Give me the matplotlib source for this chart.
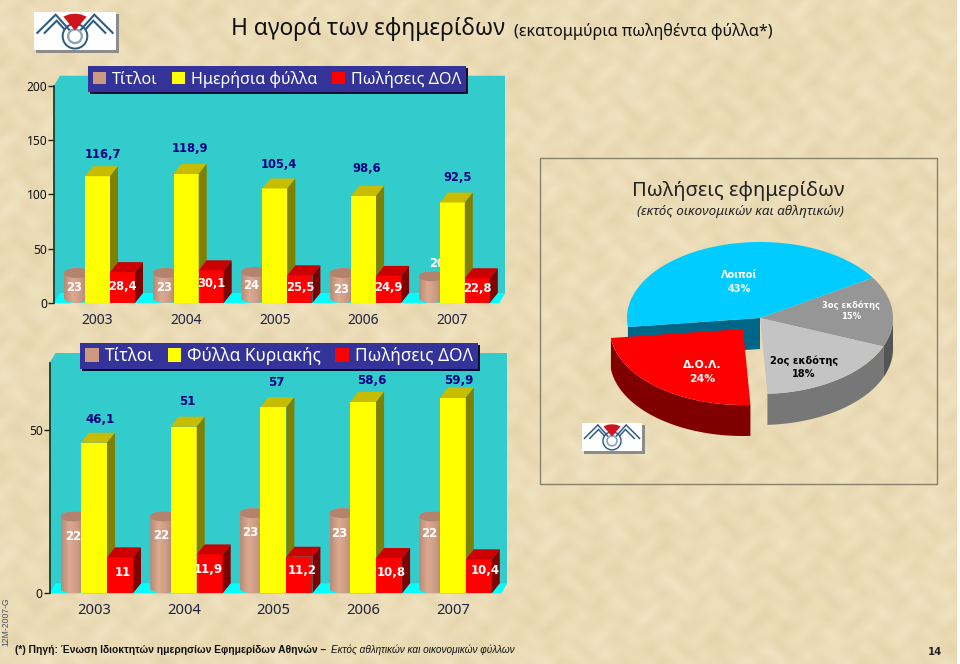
import numpy as np
import matplotlib
matplotlib.use('Agg')
import matplotlib.pyplot as plt
from matplotlib.colors import LinearSegmentedColormap
from matplotlib.patches import Polygon, Rectangle, Circle, Patch

years = ['2003', '2004', '2005', '2006', '2007']

# top chart
titles_top = [23, 23, 24, 23, 20]
daily_sheets = [116.7, 118.9, 105.4, 98.6, 92.5]
dol_sales_top = [28.4, 30.1, 25.5, 24.9, 22.8]

# bottom chart
titles_bottom = [22, 22, 23, 23, 22]
sunday_sheets = [46.1, 51, 57, 58.6, 59.9]
dol_sales_bottom = [11, 11.9, 11.2, 10.8, 10.4]

# pie
pie_names = ['3ος εκδότης', '2ος εκδότης', 'Δ.Ο.Λ.', 'Λοιποί']
pie_shares = [15, 18, 24, 43]

W, H = 960, 664
TEAL = '#33CCCC'
NAVY = '#000080'
INK = '#1C2340'
SANS = 'Noto Sans'


def fmt(v):
    return f'{v:g}'.replace('.', ',')


fig = plt.figure(figsize=(W / 100, H / 100), dpi=100)
bg = fig.add_axes([0, 0, 1, 1], zorder=0)
bg.set_xlim(0, W)
bg.set_ylim(H, 0)
bg.axis('off')

# parchment background, mottled with a few sine waves
yy, xx = np.mgrid[0:H, 0:W]
mott = (0.7 * np.sin(xx / 19 + 1.5 * np.sin(yy / 27)) * np.sin(yy / 14 - xx / 37)
        + 0.6 * np.sin(xx / 5.3 + 2 * np.sin(yy / 11))
        + 0.5 * np.sin(yy / 3.7 + 2 * np.sin(xx / 8)))
base = np.array([235, 220, 183]) / 255
tex = base[None, None, :] + (mott / 2)[:, :, None] * np.array([.025, .03, .04])
bg.imshow(np.clip(tex, 0, 1), extent=[0, W, H, 0], aspect='auto', zorder=0)
bg.set_xlim(0, W)
bg.set_ylim(H, 0)
bg.add_patch(Rectangle((957, 0), 3, H, fc='white', ec='none', zorder=1))


def draw_logo(x0, y0, w, h):
    sx, sy = w / 246, h / 113
    pt = lambda a, b: (x0 + a * sx, y0 + b * sy)
    bg.add_patch(Rectangle((x0 + 2, y0 + 2), w + 1, h + 1, fc='#8C8C8C', ec='none', zorder=2))
    bg.add_patch(Rectangle((x0, y0), w, h, fc='white', ec='none', zorder=2))
    for r, col in [(40, '#2F5C85'), (34, 'white'), (24, '#8AA3BC'), (17, 'white')]:
        bg.add_patch(Circle(pt(123, 72), r * sx, fc=col, ec='none', zorder=3))
    lw = 1.5 * w / 82
    for line in [[(10, 62), (65, 8), (105, 52)], [(32, 62), (68, 26), (90, 50)],
                 [(236, 62), (181, 8), (141, 52)], [(214, 62), (178, 26), (156, 50)]]:
        bg.plot(*zip(*[pt(*p) for p in line]), color='#2F5C85', lw=lw, zorder=3, solid_joinstyle='miter')
    bg.add_patch(Polygon([pt(88, 14), pt(105, 7), pt(123, 5), pt(141, 7), pt(158, 14), pt(123, 55)],
                         fc='#D0141C', ec='none', zorder=4))


draw_logo(34, 12, 82, 38)
draw_logo(582, 423, 60, 28)

# titles and footer
bg.text(231, 29, 'Η αγορά των εφημερίδων', fontsize=16.4, family=SANS, color='#111111', va='center')
bg.text(514, 31, '(εκατομμύρια πωληθέντα φύλλα*)', fontsize=11.6, family=SANS, color='#111111', va='center')
bg.text(15, 650, '(*) Πηγή: Ένωση Ιδιοκτητών ημερησίων Εφημερίδων Αθηνών –', fontsize=7.4,
        family='Liberation Sans', weight='bold', color='#111111', va='center')
bg.text(331, 650, 'Εκτός αθλητικών και οικονομικών φύλλων', fontsize=7.2, family='Liberation Sans',
        style='italic', color='#111111', va='center')
bg.text(6, 622, '12M-2007-G', fontsize=6.2, family='Liberation Sans', color='#44546A',
        rotation=90, ha='center', va='center')
bg.text(935, 652, '14', fontsize=7.2, family='DejaVu Sans', weight='bold', color='#222222', ha='center', va='center')


def bar3d(ax, x, w, v, dx, dy, front, top, side, z):
    l, r = x - w / 2, x + w / 2
    ax.bar(x, v, w, color=front, zorder=z)
    ax.add_patch(Polygon([(l, v), (l + dx, v + dy), (r + dx, v + dy), (r, v)], fc=top, ec='none', zorder=z, clip_on=False))
    ax.add_patch(Polygon([(r, 0), (r + dx, dy), (r + dx, v + dy), (r, v)], fc=side, ec='none', zorder=z, clip_on=False))


def cylinder(ax, c, r, v, ry, z):
    t = np.linspace(0, np.pi, 40)
    top_y = v + ry
    outline = np.r_[np.c_[c - r * np.cos(t), top_y + ry * np.sin(t)],
                    np.c_[c + r * np.cos(t), ry - ry * np.sin(t)]]
    shade = LinearSegmentedColormap.from_list('cyl', ['#B98B76', '#DDAA90', '#C99A84', '#A97C68'])
    im = ax.imshow(np.linspace(0, 1, 32)[None, :], cmap=shade, extent=[c - r, c + r, 0, top_y + ry],
                   aspect='auto', zorder=z)
    im.set_clip_path(Polygon(outline, transform=ax.transData))
    t2 = np.linspace(0, 2 * np.pi, 60)
    ax.add_patch(Polygon(np.c_[c + r * np.cos(t2), top_y + ry * np.sin(t2)], fc='#B38370', ec='none', zorder=z))


def bar_chart(box, ymax, yticks, bar_px, pitch, first_center, v_cyl, v_yel, v_red, legend_box, name,
              off_cyl, off_yel, off_red, label_fs, xtick_fs, legend_fs, tick_gap):
    left, right, y0, y_top = box
    ax = fig.add_axes([left / W, 1 - y0 / H, (right - left) / W, (y0 - y_top) / H], zorder=2)
    ax.patch.set_visible(False)
    xl = -(first_center - left) / pitch
    xr = (right - first_center) / pitch
    ppy = (y0 - y_top) / ymax
    dx, dy = 8 / pitch, 10 / ppy
    w = bar_px / pitch

    # wall and floor
    ax.add_patch(Polygon([(xl, 0), (xl, ymax), (xl + 6 / pitch, ymax + dy), (xr, ymax + dy), (xr, dy), (xr - 6 / pitch, 0)],
                         fc=TEAL, ec='none', zorder=1, clip_on=False))
    ax.add_patch(Polygon([(xl, 0), (xl + 6 / pitch, dy), (xr, dy), (xr - 6 / pitch, 0)], fc='#00FFFF', ec='none', zorder=1))

    r_cyl = 13 / pitch
    for i in range(len(years)):
        c = i - 20.5 / pitch
        cylinder(ax, c, r_cyl, v_cyl[i], dy / 2, 2)
        ax.annotate(fmt(v_cyl[i]), (c, v_cyl[i]), xytext=off_cyl[i], textcoords='offset pixels', ha='center', va='center',
                    color='white', weight='bold', fontsize=label_fs, zorder=3)
        bar3d(ax, i, w, v_yel[i], dx, dy, '#FFFF00', '#C8BC00', '#808000', 4)
        bar3d(ax, i + w, w, v_red[i], dx, dy, '#FF0000', '#CC0000', '#800000', 5)
        ax.annotate(fmt(v_yel[i]), (i, v_yel[i]), xytext=off_yel[i], textcoords='offset pixels', ha='center', va='center',
                    color=NAVY, weight='bold', fontsize=label_fs, zorder=6, annotation_clip=False)
        ax.annotate(fmt(v_red[i]), (i + w, v_red[i]), xytext=off_red[i], textcoords='offset pixels', ha='center', va='center',
                    color='white', weight='bold', fontsize=label_fs, zorder=6)

    ax.set_xlim(xl, xr)
    ax.set_ylim(0, ymax)
    ax.set_xticks(range(len(years)))
    ax.set_xticklabels(years, fontsize=xtick_fs, family=SANS, color=INK)
    ax.set_yticks(yticks)
    ax.set_yticklabels([str(t) for t in yticks], fontsize=8.6, family=SANS, color='#111111')
    ax.tick_params(axis='x', length=0, pad=tick_gap)
    ax.tick_params(axis='y', length=4, width=1, color='#222222', pad=1)
    for s in ['top', 'right', 'bottom']:
        ax.spines[s].set_visible(False)
    ax.spines['left'].set_color('#12331F')
    ax.spines['left'].set_linewidth(1.2)

    # legend sits on its own layer, above the wall
    handles = [Patch(fc='#CC9980', ec='none'), Patch(fc='#FFFF00', ec='none'), Patch(fc='#FF0000', ec='none')]
    labels = ['Τίτλοι', name, 'Πωλήσεις ΔΟΛ']
    lx, ly, lw, lh = legend_box
    leg_ax = fig.add_axes([0, 0, 1, 1], zorder=3)
    leg_ax.axis('off')
    leg_ax.patch.set_visible(False)
    leg_ax.set_xlim(0, W)
    leg_ax.set_ylim(H, 0)
    leg_ax.add_patch(Rectangle((lx + 2, ly + 2), lw, lh, fc='#0C0C30', ec='none', zorder=1))
    leg_ax.add_patch(Rectangle((lx, ly), lw, lh, fc='#333399', ec='none', zorder=1))
    leg_ax.legend(handles, labels, ncol=3, mode='expand', loc='center', bbox_to_anchor=(lx + 5, ly + lh, lw - 10, -lh),
                  bbox_transform=leg_ax.transData, frameon=False, labelcolor='white', handlelength=0.8,
                  handleheight=0.8, handletextpad=0.35, borderpad=0, borderaxespad=0,
                  prop={'family': SANS, 'size': legend_fs})
    return ax


bar_chart((54, 505, 303, 85.7), 200, [0, 50, 100, 150, 200], 25, 88.7, 97.5,
          titles_top, daily_sheets, dol_sales_top, (88, 66, 378, 26), 'Ημερήσια φύλλα',
          [(-3, -9), (-2, -9), (-3, -9), (-2, -11), (5, 18)],
          [(5, 22), (4, 25), (4, 24), (3, 27), (5, 25)],
          [(0, -14), (0, -13), (0, -12), (0, -12), (0, -10)],
          8.3, 10, 11.6, 7)

bar_chart((49.5, 507, 593.3, 363), 70.5, [0, 50], 26, 89.7, 94,
          titles_bottom, sunday_sheets, dol_sales_bottom, (80, 343, 398, 26), 'Φύλλα Κυριακής',
          [(0, -15), (-2, -14), (-3, -14), (-3, -15), (-3, -12)],
          [(6, 23), (4, 25), (3, 25), (9, 21), (6, 17)],
          [(3, -15), (-1, -15), (3, -14), (2, -14), (6, -11)],
          8.5, 10.6, 12.4, 7)

# pie box
bg.add_patch(Rectangle((540, 158), 397, 326, fc='none', ec='#8A8268', lw=1, zorder=2))
bg.text(738, 191, 'Πωλήσεις εφημερίδων', fontsize=14.5, family=SANS, color='#222222', ha='center', va='center')
bg.text(740, 212, '(εκτός οικονομικών και αθλητικών)', fontsize=9.7, family=SANS, style='italic',
        color='#222222', ha='center', va='center')

cx, cy, a, b, depth = 760, 318, 133, 76, 31
top_cols = ['#969696', '#C4C4C4', '#FF0000', '#00CCFF']
side_cols = ['#555555', '#777777', '#800000', '#006688']
explode = [(0, 0), (0, 0), (-17, 11), (0, 0)]
edges = 32 - np.cumsum([0] + [s * 3.6 for s in pie_shares])


def arc(t0, t1, ox, oy):
    t = np.radians(np.linspace(t0, t1, 80))
    return np.c_[cx + ox + a * np.cos(t), cy + oy - b * np.sin(t)]


# cut face of the cyan slice, where the red slice was pulled out
p_end = arc(edges[3], edges[3] - 0.01, 0, 0)[0]
bg.add_patch(Polygon([(cx, cy), p_end, p_end + [0, depth], (cx, cy + depth)], fc=side_cols[3], ec='none', zorder=3))
for i in range(3):
    ox, oy = explode[i]
    hi, lo = edges[i], edges[i + 1]
    vis_hi, vis_lo = min(hi, 0), max(lo, -180)
    if vis_hi > vis_lo:
        rim = arc(vis_hi, vis_lo, ox, oy)
        bg.add_patch(Polygon(np.r_[rim, rim[::-1] + [0, depth]], fc=side_cols[i], ec='none', zorder=3))
for i in range(4):
    ox, oy = explode[i]
    pts = np.r_[[(cx + ox, cy + oy)], arc(edges[i], edges[i + 1], ox, oy)]
    bg.add_patch(Polygon(pts, fc=top_cols[i], ec='none', zorder=4))

pie_font = dict(family='DejaVu Sans', weight='bold', ha='center', va='center', zorder=5)
bg.text(851, 310.5, f'{pie_names[0]}\n{pie_shares[0]}%', color='white', fontsize=6, linespacing=1.35, **pie_font)
bg.text(804, 367, f'{pie_names[1]}\n{pie_shares[1]}%', color='black', fontsize=7.1, linespacing=1.35, **pie_font)
bg.text(702, 372, f'{pie_names[2]}\n{pie_shares[2]}%', color='white', fontsize=7.8, linespacing=1.4, **pie_font)
bg.text(739, 282, f'{pie_names[3]}\n{pie_shares[3]}%', color='white', fontsize=7, linespacing=1.45, **pie_font)

fig.savefig('out.png', dpi=100)
